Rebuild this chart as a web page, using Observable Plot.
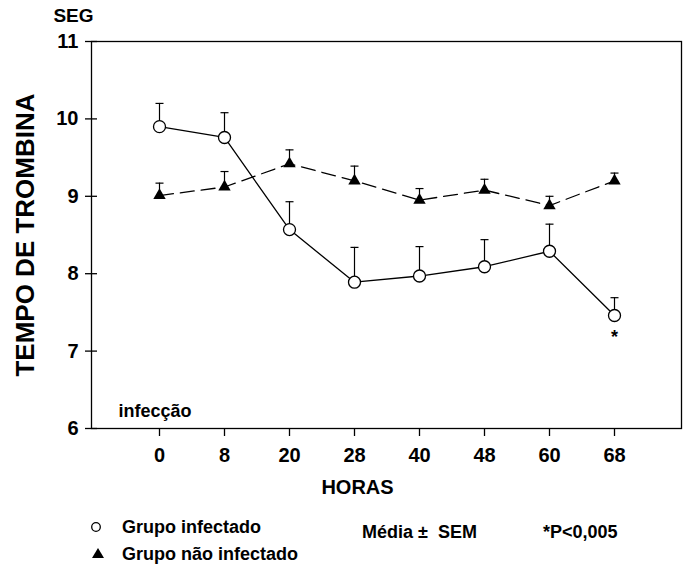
<!DOCTYPE html>
<html>
<head>
<meta charset="utf-8">
<script src="https://cdn.jsdelivr.net/npm/d3@7"></script>
<script src="https://cdn.jsdelivr.net/npm/@observablehq/plot@0.6"></script>
<style>
  html, body { margin: 0; padding: 0; background: white; }
  #chart svg { display: block; }
  #legend { position: relative; width: 689px; height: 65px; font: bold 18px "Liberation Sans", Arial, sans-serif; color: black; }
  #legend .item { position: absolute; line-height: 18px; white-space: pre; }
  #legend svg { position: absolute; overflow: visible; }
</style>
</head>
<body>
<div id="chart"></div>
<div id="legend">
  <svg style="left:90px;top:16px" width="12" height="12"><circle cx="6" cy="6" r="4.3" fill="white" stroke="black" stroke-width="1.3"/></svg>
  <span class="item" style="left:122px;top:13px">Grupo infectado</span>
  <span class="item" style="left:362px;top:18px">Média ±  SEM</span>
  <span class="item" style="left:543px;top:18px">*P&lt;0,005</span>
  <svg style="left:92px;top:43px" width="12" height="11"><polygon points="6,0 12,10 0,10" fill="black"/></svg>
  <span class="item" style="left:122px;top:40px">Grupo não infectado</span>
</div>
<script>
const hours = ["0", "8", "20", "28", "40", "48", "60", "68"];
const infectedMean = [9.90, 9.76, 8.57, 7.89, 7.97, 8.09, 8.29, 7.46];
const infectedSem  = [0.30, 0.32, 0.36, 0.45, 0.38, 0.35, 0.35, 0.23];
const controlMean  = [9.01, 9.12, 9.42, 9.20, 8.95, 9.08, 8.88, 9.20];
const controlSem   = [0.16, 0.20, 0.18, 0.19, 0.15, 0.14, 0.12, 0.10];
const yTicks = [6, 7, 8, 9, 10, 11];
const significant = ["68"];

const infected = hours.map((h, i) => ({h, v: infectedMean[i], top: infectedMean[i] + infectedSem[i]}));
const control = hours.map((h, i) => ({h, v: controlMean[i], top: controlMean[i] + controlSem[i]}));
const stars = infected.filter(d => significant.includes(d.h));

// horizontal cap symbol for the error bars
const capSymbol = {
  draw(context, size) {
    const w = Math.sqrt(size / Math.PI);
    context.moveTo(-w, 0);
    context.lineTo(w, 0);
  }
};

const chart = Plot.plot({
  width: 689,
  height: 505,
  marginLeft: 91,
  marginRight: 8,
  marginTop: 41,
  marginBottom: 77,
  style: {fontFamily: "'Liberation Sans', Arial, sans-serif", fontWeight: "bold", fontSize: "19px", color: "black", background: "white"},
  x: {type: "point", domain: hours, padding: 1},
  y: {domain: [6, 11]},
  marks: [
    Plot.frame({stroke: "black", strokeWidth: 1.3}),
    Plot.axisY({ticks: yTicks, tickSize: 12, dx: 6, tickFormat: () => "", label: null, strokeWidth: 1.3}),
    Plot.axisY({ticks: yTicks, tickSize: 0, tickPadding: 13, tickFormat: d => String(d), fontSize: 20, label: null}),
    Plot.axisX({tickSize: 8, tickPadding: 11, fontSize: 20, label: null, strokeWidth: 1.3}),
    Plot.text(["TEMPO DE TROMBINA"], {frameAnchor: "left", rotate: -90, textAnchor: "middle", lineAnchor: "middle", dx: -66, fontSize: 26}),
    Plot.text(["HORAS"], {frameAnchor: "bottom", textAnchor: "middle", lineAnchor: "middle", dx: -29, dy: 59, fontSize: 20}),
    Plot.text(["SEG"], {frameAnchor: "top-left", textAnchor: "end", lineAnchor: "middle", dx: 2, dy: -25.5, fontSize: 19}),
    Plot.text(["infecção"], {frameAnchor: "bottom-left", textAnchor: "start", lineAnchor: "middle", dx: 27, dy: -17, fontSize: 18}),
    // error bars (mean to mean + SEM)
    Plot.ruleX(control, {x: "h", y1: "v", y2: "top", stroke: "black", strokeWidth: 1.2}),
    Plot.dot(control, {x: "h", y: "top", symbol: capSymbol, r: 4, fill: "none", stroke: "black", strokeWidth: 1.2}),
    Plot.ruleX(infected, {x: "h", y1: "v", y2: "top", stroke: "black", strokeWidth: 1.2}),
    Plot.dot(infected, {x: "h", y: "top", symbol: capSymbol, r: 4, fill: "none", stroke: "black", strokeWidth: 1.2}),
    // lines
    Plot.line(control, {x: "h", y: "v", stroke: "black", strokeWidth: 1.3, strokeDasharray: "14,7"}),
    Plot.line(infected, {x: "h", y: "v", stroke: "black", strokeWidth: 1.3}),
    // markers
    Plot.dot(control, {x: "h", y: "v", symbol: "triangle", r: 4.6, fill: "black", stroke: "none"}),
    Plot.dot(infected, {x: "h", y: "v", symbol: "circle", r: 6, fill: "white", stroke: "black", strokeWidth: 1.3}),
    Plot.text(stars, {x: "h", y: "v", text: () => "*", dy: 22, fontSize: 18, lineAnchor: "middle"})
  ]
});
document.getElementById("chart").appendChild(chart);
</script>
</body>
</html>
